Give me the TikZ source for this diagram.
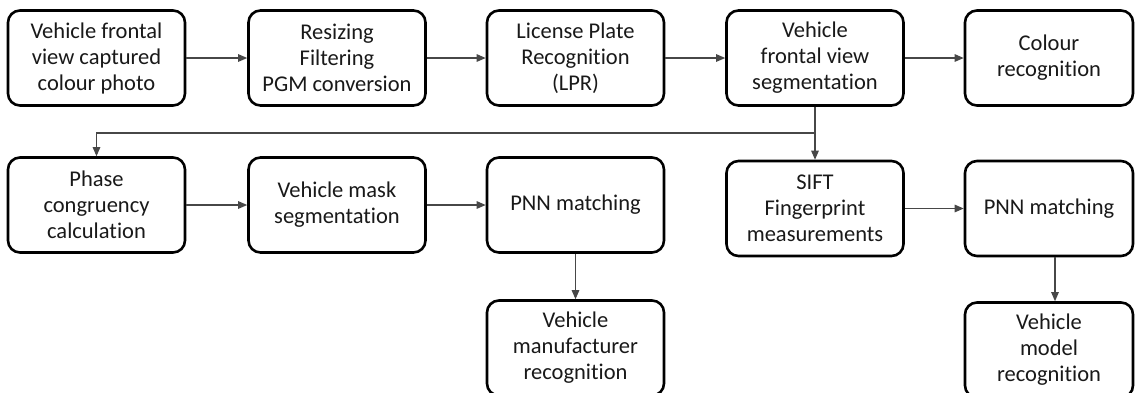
\documentclass[tikz,border=0pt]{standalone}
\usepackage{fontspec}
\setmainfont{Carlito}[RawFeature=-liga]
\usetikzlibrary{arrows.meta}
\tikzset{
  stagebox/.style={draw=black, line width=2.6pt, rounded corners=12pt,
    minimum width=177pt, minimum height=95pt, align=center,
    inner sep=2pt, font=\fontsize{22.5}{26}\selectfont, text=black!90},
  conn/.style={draw=black!72, line width=1.1pt},
  flow/.style={conn, -{Triangle[length=9pt,width=7.5pt]}}
}
\begin{document}
\begin{tikzpicture}[x=1pt,y=-1pt]
\clip (0,0) rectangle (1135,392);
\fill[white] (0,0) rectangle (1135,392);

% first row: acquisition and pre-processing
\node[stagebox] (photo) at (96.5,58)  {Vehicle frontal\\view captured\\colour photo};
\node[stagebox] (prep)  at (337,58)   {Resizing\\Filtering\\PGM conversion};
\node[stagebox] (lpr)   at (575.5,58) {License Plate\\Recognition\\(LPR)};
\node[stagebox] (seg)   at (815,58)   {Vehicle\\frontal view\\segmentation};
\node[stagebox, minimum width=168pt] (colour) at (1049,58) {Colour\\recognition};

% second row: manufacturer branch and model branch
\node[stagebox] (phase) at (96.5,205) {Phase\\congruency\\calculation};
\node[stagebox] (mask)  at (337,205)  {Vehicle mask\\segmentation};
\node[stagebox] (pnna)  at (575.5,205) {PNN matching};
\node[stagebox] (sift)  at (815,208.5) {SIFT\\Fingerprint\\measurements};
\node[stagebox, minimum width=168pt] (pnnb) at (1049,208.5) {PNN matching};

% third row: results
\node[stagebox] (manu)  at (575.5,348) {Vehicle\\manufacturer\\recognition};
\node[stagebox, minimum width=168pt] (model) at (1049,350) {Vehicle\\model\\recognition};

% connectors
\draw[flow] (photo) -- (prep);
\draw[flow] (prep) -- (lpr);
\draw[flow] (lpr) -- (seg);
\draw[flow] (seg) -- (colour);

\coordinate (split) at (815,133);
\draw[conn] (seg.south) -- (split);
\draw[flow] (split) -| (phase.north);
\draw[flow] (split) -- (sift.north);

\draw[flow] (phase) -- (mask);
\draw[flow] (mask) -- (pnna);
\draw[flow] (pnna) -- (manu);

\draw[flow] (sift) -- (pnnb);
\draw[flow] ([xshift=6pt]pnnb.south) -- ([xshift=6pt]model.north);
\end{tikzpicture}
\end{document}
